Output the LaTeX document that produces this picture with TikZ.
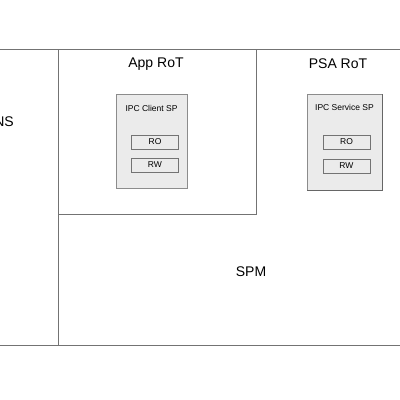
\documentclass[tikz,border=0pt]{standalone}
\usepackage{fontspec}
\setmainfont{Liberation Sans}
\begin{document}
\begin{tikzpicture}[x=1pt,y=-1pt,
  frame/.style={draw=black!55,line width=0.9pt},
  title/.style={font=\fontsize{14}{16}\selectfont,inner sep=0pt},
  spbox/.style={draw=black!45,fill=black!8,line width=0.8pt,minimum width=72pt,minimum height=94pt,inner sep=0pt,
    drop shadow/.style={}},
  sptext/.style={font=\fontsize{8.5}{10}\selectfont,inner sep=0pt},
  membox/.style={draw=black!55,line width=0.7pt,minimum width=47pt,minimum height=14pt,inner sep=0pt,font=\fontsize{8.5}{10}\selectfont}]
\useasboundingbox (0,0) rectangle (400,400);
% frame lines
\coordinate (tl) at (0,49);
\coordinate (tr) at (400,49);
\coordinate (bl) at (0,345);
\coordinate (br) at (400,345);
\coordinate (vt) at (58,49);
\coordinate (vb) at (58,345);
\draw[frame] (tl) -- (tr);
\draw[frame] (bl) -- (br);
\draw[frame] (vt) -- (vb);
% App RoT box
\node[frame,minimum width=198pt,minimum height=165pt,inner sep=0pt,anchor=north west] (app) at (58,49) {};
% labels
\node[title] (ns) at (4,122) {NS};
\node[title] (apprt) at (156,64) {App RoT};
\node[title] (psart) at (338,64) {PSA RoT};
\node[title] (spm) at (251,272) {SPM};
% client SP
\node[spbox,anchor=north west,minimum width=71pt,minimum height=94pt] (client) at (116,94) {};
\node[sptext] (clientt) at (151.5,108) {IPC Client SP};
\node[membox] (cro) at (155,142) {RO};
\node[membox] (crw) at (155,165) {RW};
% service SP
\node[spbox,anchor=north west,minimum width=75pt,minimum height=96pt] (service) at (307,94) {};
\draw[black!60,line width=0.9pt] (service.south west) -- (service.south east) -- (service.north east);
\node[sptext] (servicet) at (344.5,107) {IPC Service SP};
\node[membox] (sro) at (346.5,142) {RO};
\node[membox] (srw) at (346.5,166) {RW};
\end{tikzpicture}
\end{document}
